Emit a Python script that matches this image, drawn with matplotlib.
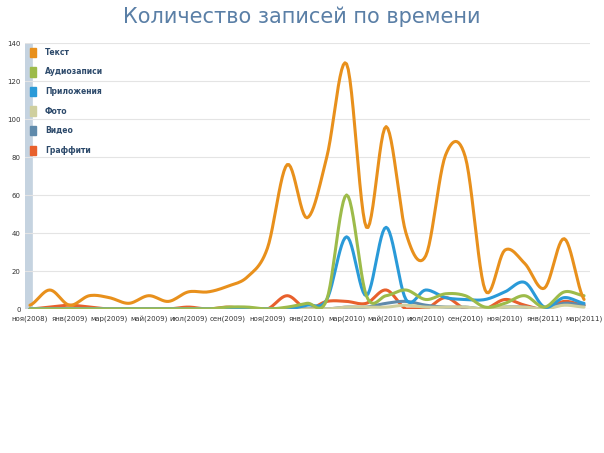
import matplotlib.pyplot as plt
from matplotlib.patches import Patch
import numpy as np

months = ["ноя(2008)", "дек(2008)", "янв(2009)", "фев(2009)", "мар(2009)", "апр(2009)", "май(2009)",
          "июн(2009)", "июл(2009)", "авг(2009)", "сен(2009)", "окт(2009)", "ноя(2009)", "дек(2009)",
          "янв(2010)", "фев(2010)", "мар(2010)", "апр(2010)", "май(2010)", "июн(2010)", "июл(2010)",
          "авг(2010)", "сен(2010)", "окт(2010)", "ноя(2010)", "дек(2010)", "янв(2011)", "фев(2011)",
          "мар(2011)"]

text = [2, 10, 2, 7, 6, 3, 7, 4, 9, 9, 12, 17, 32, 76, 48, 80, 129, 43, 96, 40, 28, 81, 80, 10, 31, 24, 11, 37, 5]
audio = [0, 0, 0, 0, 0, 0, 0, 0, 0, 0, 1, 1, 0, 1, 3, 5, 60, 7, 7, 10, 5, 8, 7, 1, 3, 7, 1, 9, 7]
apps = [0, 0, 0, 0, 0, 0, 0, 0, 0, 0, 0, 0, 0, 0, 2, 5, 38, 7, 43, 5, 10, 6, 5, 5, 9, 14, 1, 6, 3]
photo = [0, 0, 0, 0, 0, 0, 0, 0, 0, 0, 0, 0, 0, 0, 0, 0, 1, 1, 1, 2, 1, 1, 1, 0, 1, 1, 0, 2, 1]
video = [0, 0, 0, 0, 0, 0, 0, 0, 0, 0, 0, 0, 0, 0, 0, 0, 1, 1, 3, 4, 2, 1, 1, 0, 1, 1, 0, 3, 2]
graffiti = [0, 1, 2, 1, 0, 0, 0, 0, 1, 0, 1, 0, 0, 7, 0, 4, 4, 3, 10, 0, 0, 6, 0, 0, 5, 2, 0, 4, 2]

series = [("Текст", text, "#e8901c"), ("Аудиозаписи", audio, "#9dbb4a"),
          ("Приложения", apps, "#2a9ad8"), ("Фото", photo, "#cfcf9e"),
          ("Видео", video, "#5f8aab"), ("Граффити", graffiti, "#e8602c")]


def smooth(y, n=12):
    # catmull-rom curve through the points, for drawing only
    y = np.asarray(y, float)
    p = np.concatenate([[y[0]], y, [y[-1]]])
    xs, ys = [], []
    for i in range(len(y) - 1):
        t = np.linspace(0, 1, n, endpoint=False)
        p0, p1, p2, p3 = p[i], p[i + 1], p[i + 2], p[i + 3]
        seg = 0.5 * (2 * p1 + (-p0 + p2) * t + (2 * p0 - 5 * p1 + 4 * p2 - p3) * t ** 2
                     + (-p0 + 3 * p1 - 3 * p2 + p3) * t ** 3)
        xs.append(i + t)
        ys.append(seg)
    xs.append([len(y) - 1])
    ys.append([y[-1]])
    return np.concatenate(xs), np.maximum(np.concatenate(ys), 0)


fig = plt.figure(figsize=(6.04, 4.53), dpi=100)
ax = fig.add_axes([25 / 604, 1 - 309 / 453, 565 / 604, 266 / 453])
fig.suptitle("Количество записей по времени", x=0.5, y=0.985, fontsize=15, color="#5a7fa6")

x = np.arange(len(months))
for name, vals, col in reversed(series):
    sx, sy = smooth(vals)
    ax.plot(sx, sy, color=col, lw=2.2, solid_capstyle="round")

ax.set_xlim(-0.25, len(months) - 1 + 0.3)
ax.set_ylim(0, 140)
ax.set_yticks(range(0, 141, 20))
ax.set_xticks(x[::2])
ax.set_xticklabels(months[::2])
ax.tick_params(axis="x", labelsize=5, length=0, pad=5, colors="#333333")
ax.tick_params(axis="y", labelsize=5, length=0, pad=3, colors="#333333")
ax.grid(axis="y", color="#e4e4e4", lw=0.8)
ax.set_axisbelow(True)
for s in ax.spines.values():
    s.set_visible(False)
ax.axhline(0, color="#cccccc", lw=0.8)

# light bar at the left with the legend
ax.axvline(-0.1, color="#c5d3e0", lw=7, zorder=0)
handles = [Patch(color=col, label=name) for name, _, col in series]
leg = ax.legend(handles=handles, loc="upper left", bbox_to_anchor=(0.0, 1.0),
                frameon=False, fontsize=5.5, handlelength=0.8, handleheight=1.5,
                labelspacing=1.35, borderaxespad=0.2, handletextpad=1.2)
for t in leg.get_texts():
    t.set_color("#2d4a6b")
    t.set_fontweight("bold")

fig.savefig("out.png")
